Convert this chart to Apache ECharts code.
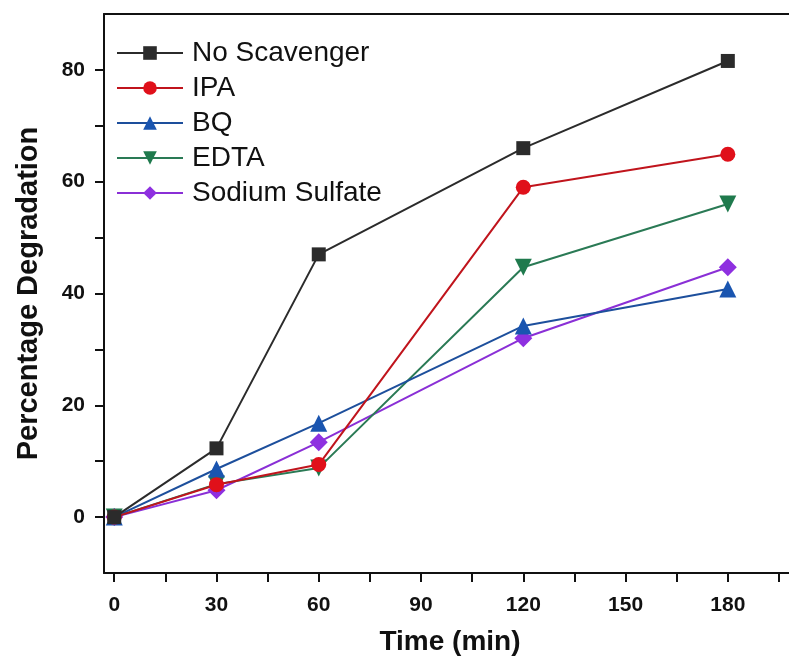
<!DOCTYPE html>
<html>
<head>
<meta charset="utf-8">
<script src="https://cdn.jsdelivr.net/npm/echarts@6/dist/echarts.min.js"></script>
<style>
  html, body { margin: 0; padding: 0; background: #fff; }
  #chart { width: 789px; height: 657px; }
</style>
</head>
<body>
<div id="chart"></div>
<script>
// time points (min)
var times = [0, 30, 60, 120, 180];
var seriesNames = ['No Scavenger', 'IPA', 'BQ', 'EDTA', 'Sodium Sulfate'];
var noScavenger = [0, 12.3, 47.0, 66.0, 81.6];
var ipa = [0, 5.8, 9.4, 59.0, 64.9];
var bq = [0, 8.6, 16.8, 34.2, 40.8];
var edta = [0, 5.9, 8.8, 44.7, 56.0];
var sodiumSulfate = [0, 4.8, 13.4, 32.0, 44.7];
var xLabels = [0, 30, 60, 90, 120, 150, 180];
var xTicks = [0, 15, 30, 45, 60, 75, 90, 105, 120, 135, 150, 165, 180, 195];
var yLabels = [0, 20, 40, 60, 80];
var yTicks = [0, 10, 20, 30, 40, 50, 60, 70, 80];

var colors = ['#2b2b2b', '#c0141c', '#1d4f9c', '#2a7a55', '#8a2fd6'];
var markerColors = ['#2b2b2b', '#e0101a', '#1a55b0', '#1f7a4d', '#8e30e0'];
var symbols = ['rect', 'circle', 'triangle', 'triangle', 'diamond'];
var symbolSizes = [14, 15, 17, 17, 18];
var rotates = [0, 0, 0, 180, 0];
var values = [noScavenger, ipa, bq, edta, sodiumSulfate];

var font = 'Liberation Sans, Arial';

function pairs(vals) {
    return times.map(function (t, i) { return [t, vals[i]]; });
}

var chart = echarts.init(document.getElementById('chart'));

var series = seriesNames.map(function (name, i) {
    return {
        name: name,
        type: 'line',
        data: pairs(values[i]),
        symbol: symbols[i],
        symbolSize: symbolSizes[i],
        symbolRotate: rotates[i],
        lineStyle: { color: colors[i], width: 2 },
        itemStyle: { color: markerColors[i] },
        z: 10 - i
    };
});

var option = {
    animation: false,
    backgroundColor: '#fff',
    grid: { left: 104, top: 14, right: -7, bottom: 84, show: false, outerBoundsMode: 'none' },
    legend: {
        orient: 'vertical',
        left: 111,
        top: 34,
        itemWidth: 66,
        itemHeight: 17,
        itemGap: 7,
        textStyle: { fontFamily: font, fontSize: 28, color: '#111', padding: [0, 0, 0, 4] },
        data: seriesNames
    },
    xAxis: [{
        type: 'value',
        min: -3,
        max: 200,
        name: 'Time (min)',
        nameLocation: 'middle',
        nameGap: 55,
        nameTextStyle: { fontFamily: font, fontWeight: 'bold', fontSize: 28, color: '#111' },
        axisLine: { show: true, onZero: false, lineStyle: { color: '#111', width: 2 } },
        axisTick: { show: true, length: 9, lineStyle: { color: '#111', width: 2 },
            customValues: xTicks },
        axisLabel: { customValues: xLabels, margin: 22, fontFamily: font,
            fontWeight: 'bold', fontSize: 21, color: '#111' },
        splitLine: { show: false }
    }, {
        type: 'value',
        position: 'top',
        min: -3,
        max: 200,
        axisLine: { show: true, onZero: false, lineStyle: { color: '#111', width: 2 } },
        axisTick: { show: false },
        axisLabel: { show: false },
        splitLine: { show: false }
    }],
    yAxis: {
        type: 'value',
        min: -10,
        max: 90,
        name: 'Percentage Degradation',
        nameLocation: 'middle',
        nameGap: 61,
        nameTextStyle: { fontFamily: font, fontWeight: 'bold', fontSize: 29, color: '#111' },
        axisLine: { show: true, onZero: false, lineStyle: { color: '#111', width: 2 } },
        axisTick: { show: true, length: 9, lineStyle: { color: '#111', width: 2 },
            customValues: yTicks },
        axisLabel: { customValues: yLabels, margin: 19, fontFamily: font,
            fontWeight: 'bold', fontSize: 21, color: '#111' },
        splitLine: { show: false }
    },
    series: series
};

chart.setOption(option);
</script>
</body>
</html>
